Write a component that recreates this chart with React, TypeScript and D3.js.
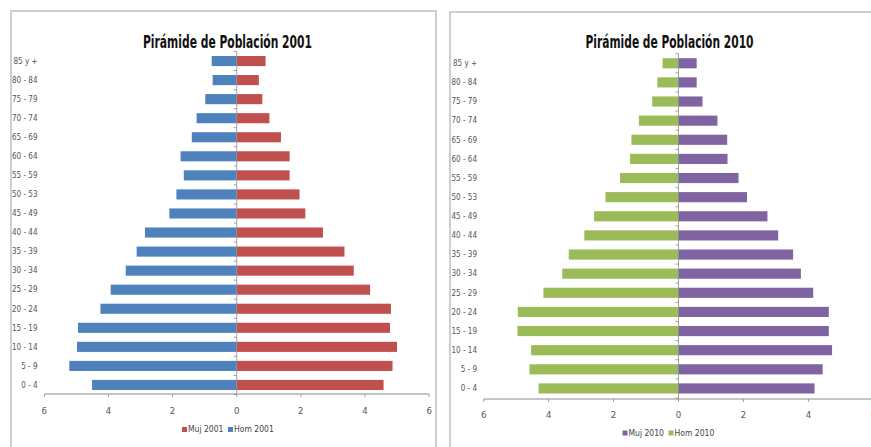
import React from "react";
import * as d3 from "d3";

const categories = ["0 - 4", "5 - 9", "10 - 14", "15 - 19", "20 - 24", "25 - 29", "30 - 34", "35 - 39", "40 - 44", "45 - 49", "50 - 53", "55 - 59", "60 - 64", "65 - 69", "70 - 74", "75 - 79", "80 - 84", "85 y +"];

const hom2001 = [4.51, 5.22, 4.98, 4.95, 4.25, 3.93, 3.46, 3.12, 2.86, 2.1, 1.88, 1.65, 1.75, 1.4, 1.25, 0.98, 0.75, 0.78];
const muj2001 = [4.58, 4.86, 5.0, 4.78, 4.81, 4.16, 3.65, 3.36, 2.69, 2.14, 1.96, 1.65, 1.65, 1.38, 1.02, 0.8, 0.69, 0.9];

const hom2010 = [4.31, 4.59, 4.54, 4.96, 4.95, 4.16, 3.58, 3.38, 2.9, 2.6, 2.25, 1.8, 1.49, 1.45, 1.22, 0.81, 0.65, 0.49];
const muj2010 = [4.19, 4.44, 4.73, 4.63, 4.63, 4.15, 3.77, 3.53, 3.07, 2.74, 2.11, 1.85, 1.51, 1.5, 1.2, 0.74, 0.56, 0.56];

const xTicks = [-6, -4, -2, 0, 2, 4, 6];

const FONT = "'Liberation Sans Narrow', 'DejaVu Sans Condensed', 'Arial Narrow', sans-serif";

type ChartProps = {
  title: string;
  left: number[];
  right: number[];
  leftName: string;
  rightName: string;
  leftColor: string;
  rightColor: string;
  frameX: number;
  frameY: number;
  frameW: number;
  x0: number;
  x1: number;
  yTop: number;
  yBottom: number;
  axisY: number;
  tickLabelY: number;
  legendY: number;
  legendX: number;
  labelRight: number;
  titleX: number;
  titleW: number;
};

function Pyramid(p: ChartProps) {
  const x = d3.scaleLinear().domain([-6, 6]).range([p.x0, p.x1]);
  const y = d3
    .scaleBand<string>()
    .domain([...categories].reverse())
    .range([p.yTop, p.yBottom])
    .paddingInner(0.47)
    .paddingOuter(0.235);
  const step = y.step();
  const boundaries = d3.range(categories.length + 1).map((i) => p.yTop + i * step);
  const axisColor = "#8c8c8c";
  return (
    <g>
      <rect x={p.frameX} y={p.frameY} width={p.frameW} height={480} fill="#fff" stroke="#c0c0c0" strokeWidth={1.5} />
      <text
        x={p.titleX}
        y={48}
        textAnchor="middle"
        fontFamily={FONT}
        fontWeight="bold"
        fontSize={18}
        fill="#111"
        textLength={p.titleW}
        lengthAdjust="spacingAndGlyphs"
      >
        {p.title}
      </text>
      {categories.map((c, i) => (
        <g key={c}>
          <rect
            x={x(-p.left[i])}
            y={y(c)!}
            width={x(0) - x(-p.left[i])}
            height={y.bandwidth()}
            fill={p.leftColor}
          />
          <rect x={x(0)} y={y(c)!} width={x(p.right[i]) - x(0)} height={y.bandwidth()} fill={p.rightColor} />
          <text
            x={p.labelRight}
            y={y(c)! + y.bandwidth() / 2}
            dy="0.35em"
            textAnchor="end"
            fontFamily={FONT}
            fontSize={8}
            fill="#555"
          >
            {c}
          </text>
        </g>
      ))}
      {/* vertical axis at zero */}
      <line x1={x(0)} x2={x(0)} y1={p.yTop} y2={p.axisY} stroke={axisColor} strokeWidth={0.8} />
      {boundaries.map((b, i) => (
        <line key={i} x1={x(0) - 3} x2={x(0)} y1={b} y2={b} stroke={axisColor} strokeWidth={0.8} />
      ))}
      {/* horizontal axis */}
      <line x1={p.x0} x2={p.x1} y1={p.axisY} y2={p.axisY} stroke={axisColor} strokeWidth={1} />
      {xTicks.map((t) => (
        <g key={t}>
          <line x1={x(t)} x2={x(t)} y1={p.axisY} y2={p.axisY + 3} stroke={axisColor} strokeWidth={0.8} />
          <text
            x={x(t)}
            y={p.tickLabelY}
            dy="0.35em"
            textAnchor="middle"
            fontFamily={FONT}
            fontSize={9.5}
            fill="#555"
          >
            {Math.abs(t)}
          </text>
        </g>
      ))}
      {/* legend */}
      <rect x={p.legendX} y={p.legendY - 2.5} width={5} height={5} fill={p.rightColor} />
      <text x={p.legendX + 6} y={p.legendY} dy="0.35em" fontFamily={FONT} fontSize={8.5} fill="#444">
        {p.rightName}
      </text>
      <rect x={p.legendX + 46} y={p.legendY - 2.5} width={5} height={5} fill={p.leftColor} />
      <text x={p.legendX + 52} y={p.legendY} dy="0.35em" fontFamily={FONT} fontSize={8.5} fill="#444">
        {p.leftName}
      </text>
    </g>
  );
}

export default function App() {
  return (
    <svg
      width={871}
      height={447}
      style={{ position: "absolute", left: 0, top: 0, display: "block" }}
      viewBox="0 0 871 447"
    >
      <rect width={871} height={447} fill="#fff" />
      <Pyramid
        title="Pirámide de Población 2001"
        left={hom2001}
        right={muj2001}
        leftName="Hom 2001"
        rightName="Muj 2001"
        leftColor="#4F81BD"
        rightColor="#C0504D"
        frameX={11}
        frameY={11}
        frameW={425}
        x0={44.3}
        x1={429.1}
        yTop={51.5}
        yBottom={394.5}
        axisY={394}
        tickLabelY={411}
        legendY={429.5}
        legendX={182}
        labelRight={37.5}
        titleX={227.5}
        titleW={169}
      />
      <Pyramid
        title="Pirámide de Población 2010"
        left={hom2010}
        right={muj2010}
        leftName="Hom 2010"
        rightName="Muj 2010"
        leftColor="#9BBB59"
        rightColor="#8064A2"
        frameX={450}
        frameY={12}
        frameW={440}
        x0={483.7}
        x1={873.3}
        yTop={53.7}
        yBottom={398}
        axisY={399}
        tickLabelY={415}
        legendY={433}
        legendX={622.5}
        labelRight={477}
        titleX={669.5}
        titleW={168}
      />
    </svg>
  );
}
